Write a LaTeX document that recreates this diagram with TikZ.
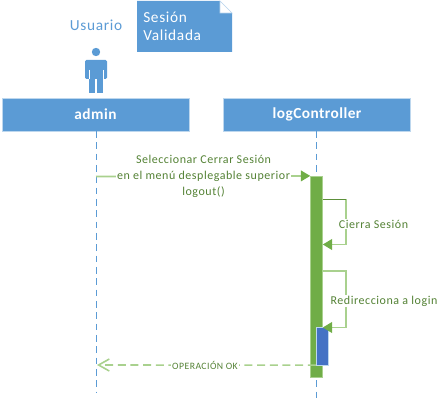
\documentclass[tikz,border=0pt]{standalone}
\usepackage{fontspec}
\setmainfont{Carlito}
\newfontfamily\spaced[LetterSpace=4.5]{Carlito}
\newfontfamily\spacedb[LetterSpace=3,BoldFont={Carlito Bold}]{Carlito}
\usetikzlibrary{arrows.meta}
\definecolor{hdr}{HTML}{5B9BD5}
\definecolor{hdredge}{HTML}{BDD7EE}
\definecolor{grn}{HTML}{70AD47}
\definecolor{grnl}{HTML}{A9D18E}
\definecolor{grnt}{HTML}{548235}
\definecolor{blu}{HTML}{4472C4}
\tikzset{
  x=0.75pt,y=-0.75pt,
  header/.style={fill=hdr,draw=hdredge,line width=0.5pt,text=white,font=\spacedb\fontsize{11.5}{13}\selectfont\bfseries,minimum width=140.25pt,minimum height=24.75pt,inner sep=0pt},
  lifeline/.style={hdr,dash pattern=on 5pt off 3.5pt,line width=0.6pt},
  msg/.style={grnl,line width=1.3pt},
  msgtip/.style={-{Triangle[length=7pt,width=8pt,color=grn]}},
  msgtext/.style={text=grnt,font=\spaced\fontsize{9}{11.8}\selectfont,align=center,inner sep=0.6pt,fill=white},
  barbox/.style={fill=grn,draw=grnl,line width=0.4pt,inner sep=0pt,minimum width=9pt},
}
\begin{document}
\begin{tikzpicture}
\useasboundingbox (0,0) rectangle (446,402);
% lifelines
\node[header] (admin) at (95.5,114.5) {admin};
\node[header] (log) at (317,114.5) {logController};
\coordinate (adminend) at (96,392);
\coordinate (logend) at (316.5,401);
\draw[lifeline] (96,131) -- (adminend);
\draw[lifeline] (316.5,131) -- (logend);
% activation bars
\node[barbox,minimum height=150.5pt] (bar) at (316.5,276.5) {};
\node[fill=blu,draw=hdredge,line width=0.3pt,inner sep=0pt,minimum width=9pt,minimum height=28.5pt] (sub) at (322,346) {};
% actor
\fill[hdr] (96,52) circle (4.2);
\fill[hdr,rounded corners=1pt] (85,60) rectangle (107,79);
\fill[hdr] (89,75) rectangle (95.3,93);
\fill[hdr] (96.7,75) rectangle (103,93);
\draw[white,line width=0.4pt] (89,70) -- (89,79) (103,70) -- (103,79);
\node[text=hdr,font=\spaced\fontsize{11.5}{12}\selectfont,inner sep=0pt] (usr) at (96,25) {Usuario};
% note
\fill[hdr] (137,1) -- (220,1) -- (232,13) -- (232,52) -- (137,52) -- cycle;
\fill[white] (220,1) -- (220,13) -- (232,13) -- cycle;
\draw[hdredge,line width=0.4pt] (220,1) -- (220,13) -- (232,13) -- cycle;
\node[text=white,font=\spaced\fontsize{11.5}{14}\selectfont,align=left,anchor=north west,inner sep=0pt] (note) at (143,11.5) {Sesión\\Validada};
% messages
\coordinate (m1a) at (96,176.5);
\draw[msg,msgtip] (m1a) -- (bar.north west);
\node[msgtext,fill=none] (m1bg) at (203.5,176.5) {\phantom{en el menú desplegable superior}};
\fill[white] (m1bg.south west) rectangle (m1bg.north east);
\node[msgtext,fill=none] (m1) at (203.5,176.5) {Seleccionar Cerrar Sesión\\en el menú desplegable superior\\logout()};
\coordinate (s1a) at (bar.east |- 0,199.5);
\coordinate (s1b) at (346,199.5);
\coordinate (s1c) at (346,244.5);
\coordinate (s1d) at (bar.east |- 0,244.5);
\draw[msg,msgtip] (s1a) -- (s1b) -- (s1c) -- (s1d);
\draw[grnt!70!grn,line width=0.6pt] (s1a) -- (s1b);
\node[msgtext] (s1t) at (373.5,224) {Cierra Sesión};
\coordinate (s2a) at (bar.east |- 0,271);
\coordinate (s2b) at (346,271);
\coordinate (s2c) at (346,327.5);
\coordinate (s2d) at (bar.east |- 0,327.5);
\draw[msg,msgtip] (s2a) -- (s2b) -- (s2c) -- (s2d);
\node[msgtext] (s2t) at (384,301) {Redirecciona a login};
\coordinate (retend) at (97,365);
\draw[grnl,line width=1.2pt,dash pattern=on 6pt off 3.5pt,-{Straight Barb[length=8pt,width=9pt,color=grnl]}] (sub.south west) -- (retend);
\node[msgtext,font=\spaced\fontsize{7.3}{8}\selectfont] (ret) at (205,365) {OPERACIÓN OK};
\end{tikzpicture}
\end{document}
